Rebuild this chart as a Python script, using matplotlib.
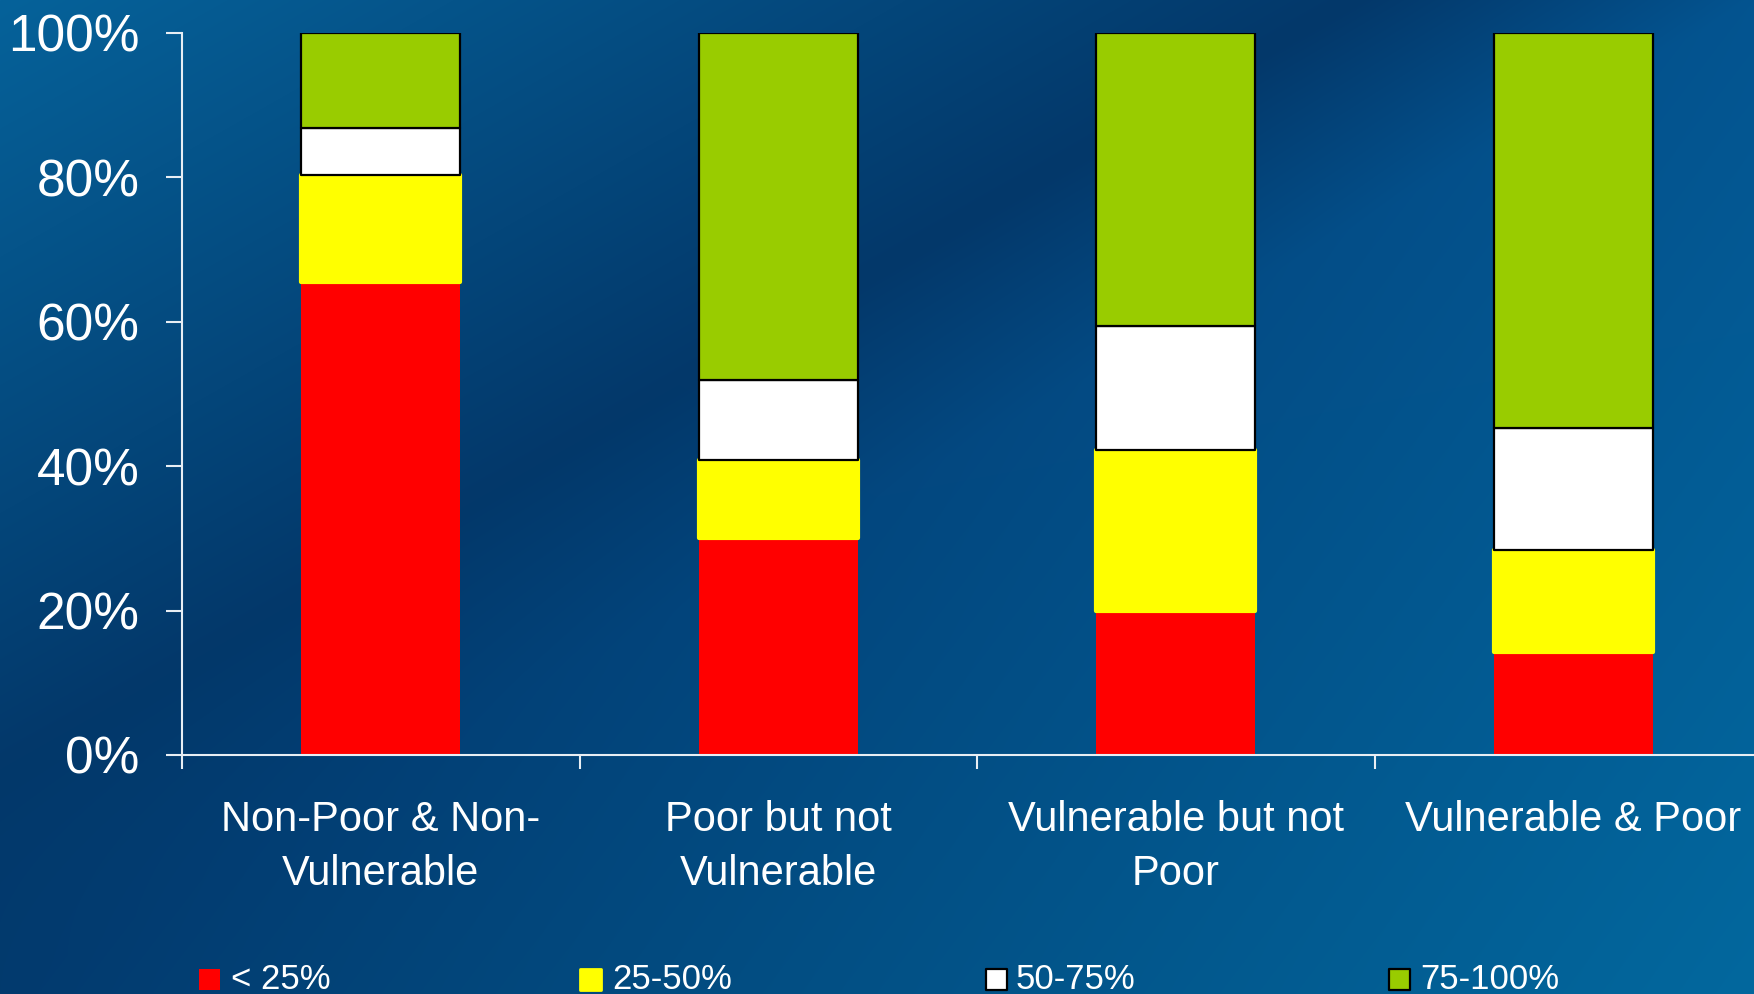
import numpy as np
import matplotlib
matplotlib.use("Agg")
import matplotlib.pyplot as plt
from matplotlib.patches import Rectangle
from matplotlib.transforms import blended_transform_factory

# ---- data -------------------------------------------------------------
categories = ["Non-Poor & Non-\nVulnerable", "Poor but not\nVulnerable",
              "Vulnerable but not\nPoor", "Vulnerable & Poor"]
series_labels = ["< 25%", "25-50%", "50-75%", "75-100%"]
share_lt25 = [65.5, 30.1, 19.9, 14.3]
share_25_50 = [14.8, 10.8, 22.3, 14.1]
share_50_75 = [6.5, 11.0, 17.2, 16.9]
share_75_100 = [13.2, 48.1, 40.6, 54.7]
y_ticks = [0, 20, 40, 60, 80, 100]

series = [share_lt25, share_25_50, share_50_75, share_75_100]
fills = ["#ff0000", "#ffff00", "#ffffff", "#99cc00"]
edges = ["none", "#ffff00", "#000000", "#000000"]
edge_widths = [0, 3.0, 1.6, 1.6]

plt.rcParams["font.family"] = ["Liberation Sans", "DejaVu Sans"]

W, H = 1754, 994
fig = plt.figure(figsize=(W / 100, H / 100), dpi=100)


def fx(x):
    return x / W


def fy(y):
    return 1 - y / H


# ---- diagonal blue backdrop --------------------------------------------
bg = fig.add_axes([0, 0, 1, 1], zorder=0)
bg.axis("off")
u = np.linspace(0, 1, W)[None, :]
v = np.linspace(0, 1, H)[:, None]
t = (u + v) / 2
s = v - u
stops = [0.0, 0.387, 0.5, 1.0]
stop_cols = np.array([(6, 98, 154), (3, 56, 106), (3, 71, 127), (2, 104, 158)], float)
img = np.stack([np.interp(t, stops, stop_cols[:, c]) for c in range(3)], axis=-1)
k = np.clip((t - 0.387) / 0.113, 0, 1)
img = img - (s * k)[..., None] * np.array([0.5, 13, 17])
img = np.clip(img / 255, 0, 1)
bg.imshow(img, aspect="auto", extent=[0, 1, 0, 1], origin="upper")
bg.set_xlim(0, 1)
bg.set_ylim(0, 1)

# ---- chart axes ---------------------------------------------------------
x0, x1, y0, y1 = 182, 1772, 755, 33
ax = fig.add_axes([fx(x0), fy(y0), fx(x1 - x0), (y0 - y1) / H], zorder=1)
ax.patch.set_alpha(0)
ax.set_xlim(-0.5, 3.5)
ax.set_ylim(0, 100)

x = np.arange(len(categories))
bottom = np.zeros(len(categories))
for vals, fc, ec, lw in zip(series, fills, edges, edge_widths):
    ax.bar(x, vals, width=0.4, bottom=bottom, color=fc, edgecolor=ec,
           linewidth=lw, joinstyle="round")
    bottom += np.array(vals)

for side in ("top", "right"):
    ax.spines[side].set_visible(False)
for side in ("left", "bottom"):
    ax.spines[side].set_color("#e8eef4")
    ax.spines[side].set_linewidth(1.5)

ax.set_yticks(y_ticks)
ax.set_yticklabels([f"{val}%" for val in y_ticks], fontsize=37, color="white")
ax.tick_params(axis="y", length=11.5, width=1.5, color="#e8eef4", pad=19)
ax.set_xticks(np.arange(-0.5, 4.0, 1.0))
ax.set_xticklabels([])
ax.tick_params(axis="x", length=10, width=1.5, color="#e8eef4")

# category names, one line at a time beneath each group
label_tf = blended_transform_factory(ax.transData, fig.transFigure)
line_baselines = [831, 885]
for i, lab in enumerate(categories):
    for line, base in zip(lab.split("\n"), line_baselines):
        ax.text(i, fy(base), line, transform=label_tf, ha="center",
                va="baseline", fontsize=30, color="white")

# ---- legend row ---------------------------------------------------------
marker_left = [199, 580, 986, 1389]
text_left = [231, 612, 1016, 1420]
for lab, fc, ec, lw, mx, tx in zip(series_labels, fills, edges, edge_widths,
                                     marker_left, text_left):
    rect = Rectangle((fx(mx), fy(990)), 21 / W, 21 / H, transform=fig.transFigure,
                     facecolor=fc, edgecolor=ec, linewidth=min(lw, 2.0),
                     joinstyle="round", zorder=3)
    fig.add_artist(rect)
    fig.text(fx(tx), fy(989), lab, ha="left", va="baseline", fontsize=25,
             color="white", zorder=3)

fig.savefig("out.png", dpi=100)
